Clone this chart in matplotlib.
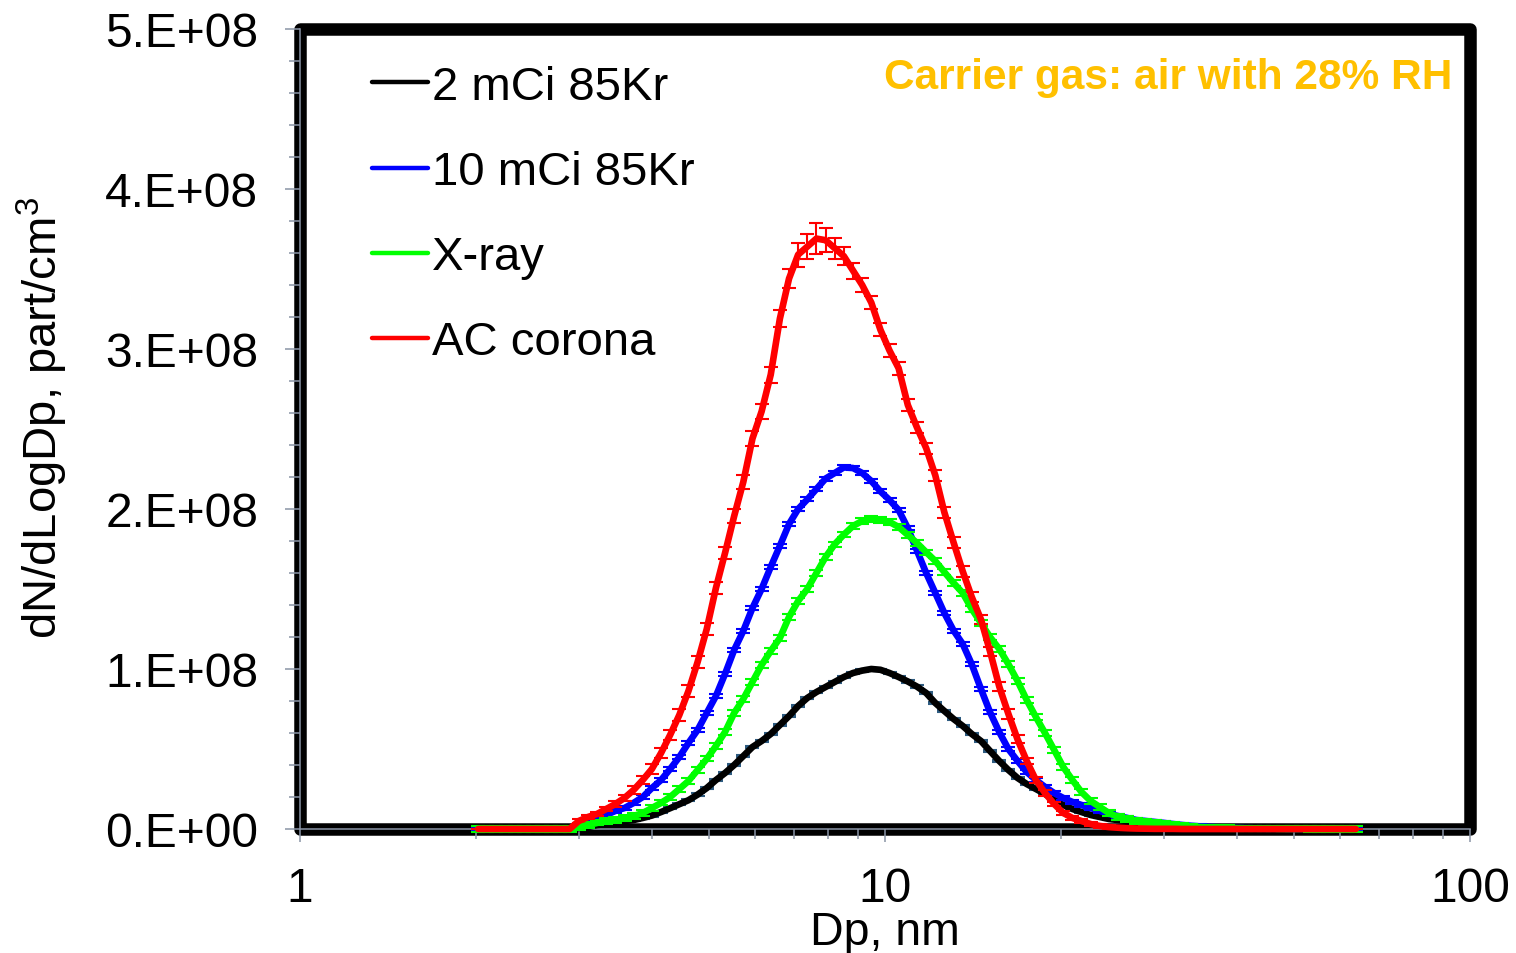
import matplotlib
matplotlib.use('Agg')
import matplotlib.pyplot as plt
from matplotlib.lines import Line2D
from matplotlib.patches import Rectangle
import matplotlib.ticker as mticker

# --- data ------------------------------------------------------------------------------------
# SMPS channel mid-point diameters (nm), 64 channels per decade
dp_nm = [
    2.017,
    2.091, 2.167, 2.247, 2.329, 2.414, 2.503, 2.595, 2.690, 2.788, 2.890,
    2.996, 3.106, 3.220, 3.338, 3.460, 3.587, 3.718, 3.854, 3.995, 4.142,
    4.293, 4.451, 4.614, 4.783, 4.958, 5.140, 5.328, 5.523, 5.725, 5.935,
    6.153, 6.378, 6.612, 6.854, 7.105, 7.365, 7.635, 7.915, 8.205, 8.505,
    8.817, 9.140, 9.475, 9.822, 10.18, 10.55, 10.94, 11.34, 11.76, 12.19,
    12.63, 13.10, 13.58, 14.07, 14.59, 15.12, 15.68, 16.25, 16.85, 17.47,
    18.11, 18.77, 19.46, 20.17, 20.91, 21.67, 22.47, 23.29, 24.14, 25.03,
    25.95, 26.90, 27.88, 28.90, 29.96, 31.06, 32.20, 33.38, 34.60, 35.87,
    37.18, 38.54, 39.95, 41.42, 42.94, 44.51, 46.14, 47.83, 49.58, 51.40,
    53.28, 55.23, 57.25, 59.35, 61.53, 63.78,
]

# dN/dlogDp in units of 1e8 part/cm3
kr2_mci = [
    0,
    0, 0, 0, 0, 0, 0, 0, 0, 0, 0,
    0.006, 0.0125, 0.025, 0.031, 0.0375, 0.05, 0.056, 0.069, 0.084, 0.106,
    0.13, 0.155, 0.18, 0.215, 0.256, 0.306, 0.35, 0.40, 0.456, 0.5125,
    0.55, 0.594, 0.65, 0.706, 0.769, 0.819, 0.856, 0.8875, 0.919, 0.95,
    0.975, 0.99, 1.0, 0.995, 0.975, 0.95, 0.922, 0.89, 0.85, 0.7875,
    0.7375, 0.6875, 0.644, 0.594, 0.55, 0.4875, 0.425, 0.369, 0.319, 0.281,
    0.25, 0.219, 0.181, 0.15, 0.125, 0.106, 0.0875, 0.075, 0.0625, 0.056,
    0.05, 0.044, 0.0375, 0.031, 0.028, 0.025, 0.02, 0.016, 0.013, 0.01,
    0.008, 0.006, 0.005, 0.004, 0.003, 0.002, 0.002, 0.001, 0.001, 0.001,
    0.001, 0, 0, 0, 0, 0,
]
kr10_mci = [
    0,
    0, 0, 0, 0, 0, 0, 0, 0, 0, 0,
    0.025, 0.05, 0.069, 0.088, 0.113, 0.131, 0.163, 0.20, 0.256, 0.306,
    0.375, 0.45, 0.538, 0.619, 0.725, 0.831, 0.969, 1.119, 1.238, 1.381,
    1.50, 1.638, 1.77, 1.906, 2.00, 2.06, 2.125, 2.19, 2.225, 2.26,
    2.256, 2.225, 2.175, 2.11, 2.056, 1.994, 1.88, 1.74, 1.60, 1.475,
    1.35, 1.24, 1.156, 1.03, 0.875, 0.73, 0.606, 0.50, 0.425, 0.356,
    0.306, 0.263, 0.225, 0.194, 0.169, 0.15, 0.131, 0.113, 0.094, 0.081,
    0.069, 0.056, 0.05, 0.044, 0.038, 0.031, 0.025, 0.02, 0.016, 0.013,
    0.01, 0.008, 0.006, 0.005, 0.004, 0.003, 0.002, 0.002, 0.001, 0.001,
    0.001, 0, 0, 0, 0, 0,
]
xray = [
    0,
    0, 0, 0, 0, 0, 0, 0, 0, 0, 0,
    0.012, 0.025, 0.038, 0.05, 0.056, 0.069, 0.081, 0.10, 0.131, 0.163,
    0.20, 0.25, 0.30, 0.369, 0.438, 0.519, 0.606, 0.725, 0.8125, 0.919,
    1.025, 1.1125, 1.194, 1.325, 1.425, 1.50, 1.60, 1.70, 1.78, 1.84,
    1.894, 1.925, 1.9375, 1.931, 1.919, 1.8875, 1.8375, 1.7875, 1.73, 1.675,
    1.606, 1.5375, 1.475, 1.375, 1.2875, 1.20, 1.125, 1.031, 0.925, 0.806,
    0.70, 0.60, 0.494, 0.3875, 0.306, 0.231, 0.175, 0.1375, 0.10, 0.075,
    0.0625, 0.05, 0.044, 0.0375, 0.031, 0.025, 0.02, 0.015, 0.012, 0.01,
    0.008, 0.006, 0.005, 0.004, 0.003, 0.002, 0.002, 0.001, 0.001, 0.001,
    0, 0, 0, 0, 0, 0,
]
ac_corona = [
    0,
    0, 0, 0, 0, 0, 0, 0, 0, 0, 0,
    0.05, 0.075, 0.094, 0.125, 0.156, 0.194, 0.244, 0.306, 0.375, 0.475,
    0.588, 0.713, 0.863, 1.044, 1.25, 1.506, 1.725, 1.956, 2.169, 2.44,
    2.61, 2.84, 3.19, 3.44, 3.59, 3.64, 3.69, 3.68, 3.63, 3.58,
    3.49, 3.40, 3.29, 3.12, 2.99, 2.88, 2.65, 2.51, 2.38, 2.21,
    1.98, 1.79, 1.61, 1.45, 1.31, 1.11, 0.89, 0.72, 0.56, 0.425,
    0.306, 0.225, 0.156, 0.10, 0.069, 0.05, 0.031, 0.019, 0.012, 0.008,
    0.005, 0.003, 0.002, 0.001, 0.001, 0.001, 0, 0, 0, 0,
    0, 0, 0, 0, 0, 0, 0, 0, 0, 0,
    0, 0, 0, 0, 0, 0,
]
# standard deviations (1e8 part/cm3)
ac_corona_err = [
    0,
    0, 0, 0, 0, 0, 0, 0, 0, 0, 0,
    0.012, 0.012, 0.015, 0.015, 0.02, 0.02, 0.025, 0.025, 0.03, 0.03,
    0.03, 0.035, 0.035, 0.035, 0.04, 0.04, 0.04, 0.045, 0.045, 0.045,
    0.045, 0.05, 0.055, 0.06, 0.075, 0.08, 0.095, 0.075, 0.065, 0.055,
    0.05, 0.045, 0.04, 0.04, 0.04, 0.04, 0.04, 0.035, 0.035, 0.035,
    0.035, 0.035, 0.035, 0.03, 0.03, 0.03, 0.03, 0.03, 0.025, 0.02,
    0.02, 0.02, 0.015, 0.015, 0.015, 0.015, 0.01, 0.01, 0.01, 0.01,
    0.01, 0.01, 0.01, 0, 0, 0, 0, 0, 0, 0,
    0, 0, 0, 0, 0, 0, 0, 0, 0, 0,
    0, 0, 0, 0, 0, 0,
]
kr2_err = 0.007
kr10_err = 0.013
xray_err = 0.016

series_labels = ['2 mCi 85Kr', '10 mCi 85Kr', 'X-ray', 'AC corona']
y_ticks = [0, 1, 2, 3, 4, 5]
y_tick_labels = ['0.E+00', '1.E+08', '2.E+08', '3.E+08', '4.E+08', '5.E+08']
x_ticks = [1, 10, 100]
x_tick_labels = ['1', '10', '100']

UNIT = 1e8

# --- style --------------------------------------------------------------------------------------
plt.rcParams['font.family'] = ['Liberation Sans', 'DejaVu Sans']
plt.rcParams['mathtext.fontset'] = 'custom'
plt.rcParams['mathtext.rm'] = 'Liberation Sans'
AXIS_GREY = '#8A94A6'
colors = ['black', '#0000FF', '#00FF00', '#FF0000']
err_colors = ['#2E5B80', '#0000FF', '#00FF00', '#FF0000']

fig = plt.figure(figsize=(15.16, 9.54), dpi=100)
ax = fig.add_axes([300 / 1516, 124 / 954, 1170 / 1516, 800 / 954])

series = [kr2_mci, kr10_mci, xray, ac_corona]
errors = [kr2_err, kr10_err, xray_err, ac_corona_err]
for i, (vals, err) in enumerate(zip(series, errors)):
    y = [v * UNIT for v in vals]
    if isinstance(err, list):
        yerr = [e * UNIT for e in err]
    else:
        yerr = err * UNIT
    cont = ax.errorbar(dp_nm, y, yerr=yerr, color=colors[i], lw=4.8,
                       ecolor=err_colors[i], elinewidth=1.5, capsize=5,
                       capthick=1.5, zorder=2 + 0.1 * i)
    line, caps, bars = cont
    line.set_clip_on(False)
    line.set_solid_capstyle('round')
    for c in caps:
        c.set_clip_on(False)
    for b in bars:
        b.set_clip_on(False)

ax.set_xscale('log')
ax.set_xlim(1, 100)
ax.set_ylim(0, 5 * UNIT)

ax.set_xticks(x_ticks)
ax.set_xticklabels(x_tick_labels)
ax.xaxis.set_minor_locator(mticker.LogLocator(base=10, subs=range(2, 10)))
ax.xaxis.set_minor_formatter(mticker.NullFormatter())
ax.set_yticks([v * UNIT for v in y_ticks])
ax.set_yticklabels(y_tick_labels)
ax.yaxis.set_minor_locator(mticker.MultipleLocator(0.2 * UNIT))

ax.tick_params(axis='both', which='both', direction='out', color=AXIS_GREY,
               width=1.1, labelsize=34.5, labelcolor='black')
ax.tick_params(axis='y', which='major', length=11, pad=19)
ax.tick_params(axis='y', which='minor', length=8)
ax.tick_params(axis='x', which='major', length=9.5, pad=17)
ax.tick_params(axis='x', which='minor', length=7.5)

for side in ['top', 'right']:
    ax.spines[side].set_visible(False)
for side in ['left', 'bottom']:
    ax.spines[side].set_color(AXIS_GREY)
    ax.spines[side].set_linewidth(1.1)
    ax.spines[side].set_zorder(1)
ax.set_axisbelow(True)

# thick black plot-area border
frame = Rectangle((0, 0), 1, 1, transform=ax.transAxes, fill=False,
                  ec='black', lw=9, joinstyle='round', clip_on=False, zorder=0.2)
ax.add_patch(frame)

handles = [Line2D([], [], color=c, lw=3.2, solid_capstyle='round') for c in colors]
ax.legend(handles, series_labels, loc='upper left',
          bbox_to_anchor=((372 - 300) / 1170, 0.955), frameon=False,
          fontsize=34, handlelength=1.19, handletextpad=0.08,
          labelspacing=0.87, borderpad=0, borderaxespad=0)

ax.text(0.9846, 0.94, 'Carrier gas: air with 28% RH', transform=ax.transAxes,
        ha='right', va='center', fontsize=30.5, fontweight='bold', color='#FFC000')

fig.text(885 / 1516, 1 - 933 / 954, 'Dp, nm', ha='center', va='center', fontsize=33.5)
fig.text(42 / 1516, 1 - 418 / 954, r'dN/dLogDp, part/cm$\mathregular{^3}$',
         ha='center', va='center', rotation=90, fontsize=34)

fig.savefig('out.png', dpi=100)
